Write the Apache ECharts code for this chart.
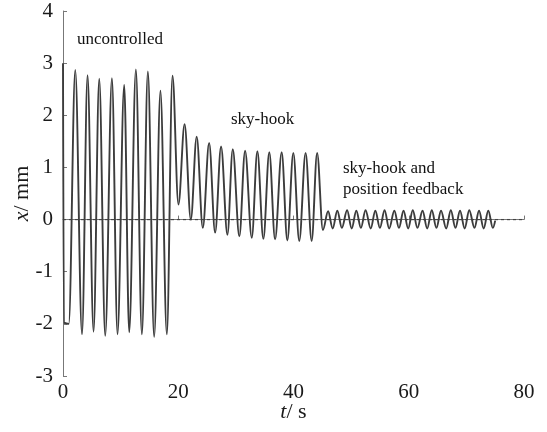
<!DOCTYPE html>
<html>
<head>
<meta charset="utf-8">
<script src="https://cdn.jsdelivr.net/npm/echarts@6/dist/echarts.min.js"></script>
<style>html,body{margin:0;padding:0;background:#fff;}#c{width:547px;height:432px;}</style>
</head>
<body>
<div id="c"></div>
<script>
// Peaks / troughs (time in s, displacement in mm)
const uncontrolledT = [0, 0.15, 1.0, 2.13, 3.3, 4.26, 5.3, 6.29, 7.33, 8.49, 9.46, 10.62, 11.49, 12.65, 13.69, 14.73, 15.82, 16.91, 18.02, 19.0];
const uncontrolledX = [3.0, -1.98, -2.0, 2.87, -2.20, 2.77, -2.15, 2.70, -2.23, 2.71, -2.20, 2.58, -2.16, 2.88, -2.20, 2.84, -2.25, 2.47, -2.20, 2.76];

const skyhookT = [20.03, 21.1, 22.18, 23.2, 24.26, 25.36, 26.4, 27.43, 28.53, 29.46, 30.6, 31.6, 32.76, 33.73, 34.77, 35.8, 36.8, 37.95, 38.93, 39.97, 41.0, 42.1, 43.15, 44.1];
const skyhookX = [0.29, 1.83, 0.0, 1.59, -0.16, 1.47, -0.25, 1.40, -0.29, 1.35, -0.32, 1.32, -0.35, 1.31, -0.37, 1.29, -0.38, 1.29, -0.40, 1.28, -0.41, 1.28, -0.41, 1.28];

const feedbackT = [45.1, 46.0, 46.8, 47.6, 48.4, 49.3, 50.1, 50.9, 51.7, 52.5, 53.4, 54.2, 55.0, 55.8, 56.6, 57.5, 58.3, 59.1, 59.9, 60.7, 61.5, 62.4, 63.2, 64.0, 64.8, 65.6, 66.5, 67.3, 68.1, 68.9, 69.7, 70.5, 71.4, 72.2, 73.0, 73.8, 74.6, 75.0];
const feedbackX = [-0.20, 0.16, -0.17, 0.17, -0.16, 0.18, -0.17, 0.17, -0.16, 0.18, -0.17, 0.17, -0.16, 0.18, -0.17, 0.17, -0.16, 0.17, -0.17, 0.18, -0.16, 0.17, -0.17, 0.18, -0.16, 0.17, -0.17, 0.18, -0.16, 0.17, -0.17, 0.18, -0.16, 0.17, -0.17, 0.17, -0.16, -0.02];

const zeroT = [0, 80];
const zeroX = [0, 0];

const xTicks = [0, 20, 40, 60, 80];
const yTicks = [-3, -2, -1, 0, 1, 2, 3, 4];

const labels = ['uncontrolled', 'sky-hook', 'sky-hook and\nposition feedback'];

function zip(a, b) { return a.map((v, i) => [v, b[i]]); }
const signal = zip(uncontrolledT, uncontrolledX).concat(zip(skyhookT, skyhookX), zip(feedbackT, feedbackX));

const serif = '"Liberation Serif","Times New Roman",serif';
const chart = echarts.init(document.getElementById('c'), null, {renderer: 'canvas'});
chart.setOption({
  backgroundColor: '#fff',
  animation: false,
  grid: {left: 63, right: 23, top: 11, bottom: 56, containLabel: false, outerBoundsMode: 'none'},
  xAxis: {
    type: 'value', min: xTicks[0], max: xTicks[xTicks.length - 1], interval: 20,
    name: '{i|t}/ s', nameLocation: 'middle', nameGap: 25, nameMoveOverlap: false,
    nameTextStyle: {fontFamily: serif, fontSize: 22, color: '#1a1a1a', rich: {i: {fontFamily: serif, fontStyle: 'italic', fontSize: 22, color: '#1a1a1a'}}},
    axisLine: {lineStyle: {color: '#777', width: 1}},
    axisTick: {inside: true, length: 4, lineStyle: {color: '#777'}},
    axisLabel: {fontFamily: serif, fontSize: 21, color: '#1a1a1a', margin: 6},
    splitLine: {show: false}
  },
  yAxis: {
    type: 'value', min: yTicks[0], max: yTicks[yTicks.length - 1], interval: 1,
    name: '{i|x}/ mm', nameLocation: 'middle', nameGap: 30, nameRotate: 90, nameMoveOverlap: false,
    nameTextStyle: {fontFamily: serif, fontSize: 22, color: '#1a1a1a', rich: {i: {fontFamily: serif, fontStyle: 'italic', fontSize: 22, color: '#1a1a1a'}}},
    axisLine: {show: true, lineStyle: {color: '#777', width: 1}},
    axisTick: {show: true, inside: true, length: 4, lineStyle: {color: '#777'}},
    axisLabel: {fontFamily: serif, fontSize: 21, color: '#1a1a1a', margin: 10},
    splitLine: {show: false}
  },
  series: [
    {
      type: 'line', data: zip(zeroT, zeroX), symbol: 'none', silent: true,
      lineStyle: {color: '#444', width: 1.2, type: [3, 3]}, z: 1
    },
    {
      type: 'line', data: signal, symbol: 'none', smooth: 0.35, smoothMonotone: 'x',
      lineStyle: {color: '#3c3c3c', width: 1.9}, z: 2
    }
  ],
  graphic: [
    {type: 'text', left: 77, top: 31, style: {text: labels[0], font: '17px ' + serif, fill: '#111'}},
    {type: 'text', left: 231, top: 111, style: {text: labels[1], font: '17px ' + serif, fill: '#111'}},
    {type: 'text', left: 343, top: 158, style: {text: labels[2], font: '17px ' + serif, fill: '#111', lineHeight: 21}}
  ]
});
</script>
</body>
</html>
